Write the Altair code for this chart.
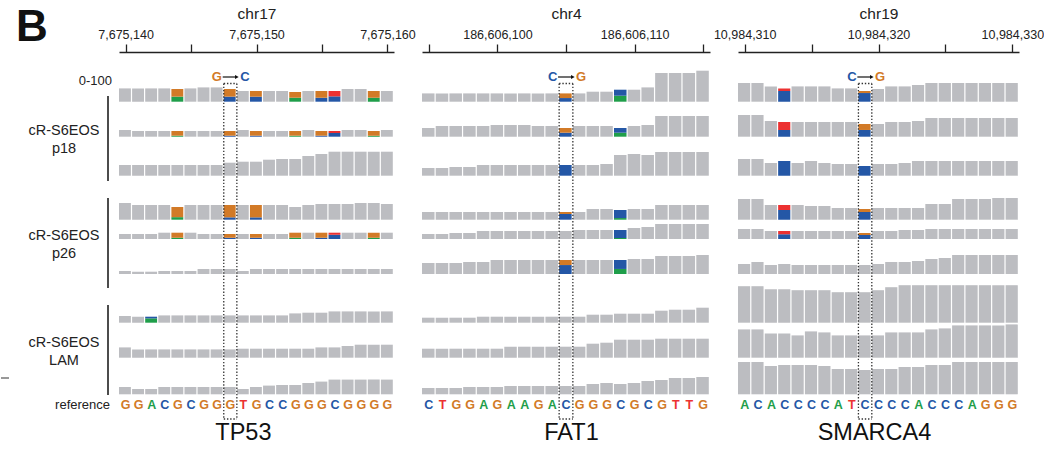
import altair as alt
import pandas as pd

FONT = "Liberation Sans"
GRAY = "#BCBDC1"
BASE_COLORS = {"A": "#1F9E4A", "C": "#2457A6", "G": "#D27A27", "T": "#EC3131"}
STACK_ORDER = ["A", "C", "G", "T"]

# ---------------- panel descriptors ----------------
CHROMS = ["chr17", "chr4", "chr19"]
GENES = ["TP53", "FAT1", "SMARCA4"]
STARTS = [7675140, 186606095, 10984310]
REF_SEQS = ["GGACGCGGGTGCCGGGCGGGG", "CTGGAGAAGACGGGCGCGTTG", "ACACCCCATCCCCACCCAGGG"]
VARIANT_IDX = [8, 10, 9]
SUBSTITUTIONS = [("G", "C"), ("C", "G"), ("C", "G")]
GENE_LABEL_POS = [7675149.0, 186606105.4, 10984319.7]
TICK_STEP = 5
LABEL_STEP = 10

SAMPLE_LINES = [["cR-S6EOS", "p18"], ["cR-S6EOS", "p26"], ["cR-S6EOS", "LAM"]]
SCALE_LABEL = "0-100"
REF_LABEL = "reference"
PANEL_LETTER = "B"

# ---------------- coverage (9 tracks x 21 positions) ----------------
COV_TP53 = [
    [13.3, 13.3, 13.3, 13.3, 12.7, 13.3, 14.3, 14.3, 12.7, 10.7, 10.7, 10.7, 10.7, 9.7, 10.7, 10.7, 10.7, 12.7, 12.7, 10.7, 10.7],
    [6.7, 5.7, 5.7, 5.7, 5.7, 5.7, 5.7, 5.7, 5.7, 6.7, 5.7, 5.7, 5.7, 5.7, 6.7, 5.7, 5.7, 6.7, 6.7, 5.7, 6.7],
    [10.7, 10.7, 10.7, 10.7, 10.7, 10.7, 10.7, 10.7, 13.0, 14.0, 14.0, 16.0, 16.7, 16.7, 19.7, 21.7, 24.0, 24.0, 24.0, 24.0, 24.0],
    [16.7, 14.7, 14.7, 14.7, 12.7, 14.7, 14.7, 14.7, 14.7, 14.7, 14.7, 14.7, 14.7, 12.7, 14.7, 15.7, 15.7, 15.7, 16.7, 16.7, 15.7],
    [5.0, 5.0, 5.0, 6.3, 6.3, 6.3, 5.0, 5.0, 5.0, 5.0, 5.0, 5.0, 5.0, 6.3, 6.3, 6.3, 6.3, 6.3, 6.3, 6.3, 6.3],
    [3.0, 2.3, 2.3, 3.0, 3.0, 3.0, 5.0, 5.0, 5.0, 3.0, 5.0, 5.0, 5.0, 5.0, 5.0, 5.0, 5.0, 5.0, 5.0, 5.0, 5.0],
    [6.7, 6.0, 6.0, 7.3, 7.3, 7.3, 7.3, 7.3, 7.3, 7.3, 7.3, 7.3, 7.3, 9.3, 10.0, 10.0, 11.3, 11.3, 11.3, 11.3, 11.3],
    [10.3, 8.3, 8.3, 8.3, 8.3, 8.3, 8.3, 8.3, 8.3, 9.0, 9.0, 9.0, 9.0, 9.0, 9.0, 10.3, 10.3, 11.7, 13.0, 13.0, 13.0],
    [7.3, 5.3, 5.3, 7.3, 7.3, 7.3, 7.3, 7.3, 7.3, 5.3, 7.3, 8.7, 9.3, 9.3, 11.3, 12.7, 14.7, 14.7, 14.7, 14.7, 14.7],
]
COV_FAT1 = [
    [8.3, 8.3, 8.3, 8.3, 8.3, 8.3, 8.3, 8.3, 8.3, 8.3, 8.3, 8.3, 10.0, 10.0, 12.0, 12.0, 14.3, 28.7, 28.7, 28.7, 31.0],
    [8.7, 10.7, 10.7, 10.7, 10.7, 11.7, 11.7, 11.7, 10.7, 10.7, 8.7, 10.7, 10.7, 10.7, 8.7, 10.7, 11.7, 20.7, 20.7, 20.7, 20.7],
    [7.7, 7.7, 8.7, 8.7, 10.7, 10.7, 10.7, 10.7, 10.7, 10.7, 10.7, 10.7, 10.7, 11.7, 20.7, 21.7, 20.7, 23.7, 23.7, 23.7, 23.7],
    [7.7, 7.7, 7.7, 7.7, 7.7, 7.7, 7.7, 7.7, 7.7, 7.7, 7.7, 7.7, 10.7, 10.7, 9.7, 10.7, 10.7, 14.7, 14.7, 14.7, 14.7],
    [5.0, 5.0, 6.0, 6.0, 8.0, 8.0, 8.0, 8.0, 8.0, 8.0, 8.0, 9.0, 9.0, 9.0, 9.0, 11.0, 12.0, 15.0, 15.0, 15.0, 15.0],
    [11.0, 11.0, 11.0, 12.0, 12.0, 14.0, 14.0, 14.0, 14.0, 14.0, 14.0, 14.0, 14.0, 14.0, 14.0, 15.0, 15.0, 18.0, 18.0, 18.0, 19.0],
    [5.0, 5.0, 5.0, 5.0, 6.0, 6.0, 6.0, 6.0, 6.0, 6.0, 6.0, 6.0, 8.0, 8.0, 9.0, 9.0, 9.0, 12.0, 13.0, 13.0, 15.0],
    [9.0, 9.0, 9.0, 9.0, 9.0, 9.0, 11.0, 11.0, 11.0, 11.0, 11.0, 11.0, 14.0, 15.0, 18.0, 18.0, 18.0, 19.0, 19.0, 19.0, 19.0],
    [6.3, 6.3, 6.3, 7.3, 7.3, 7.3, 8.3, 8.3, 8.3, 8.3, 8.3, 8.3, 10.3, 11.3, 10.3, 11.3, 13.3, 14.3, 16.3, 16.3, 17.3],
]
COV_SMARCA4 = [
    [18.7, 18.7, 15.3, 13.3, 15.3, 15.3, 15.3, 13.3, 13.3, 10.7, 12.7, 15.3, 15.3, 16.7, 18.7, 18.7, 18.7, 18.7, 18.7, 18.7, 18.7],
    [21.7, 21.7, 15.7, 14.7, 14.7, 14.7, 14.7, 14.7, 14.7, 12.7, 12.7, 14.7, 14.7, 15.7, 18.7, 18.7, 18.7, 18.7, 18.7, 18.7, 18.7],
    [16.7, 16.7, 12.7, 14.7, 12.7, 14.7, 12.7, 11.7, 11.7, 9.7, 11.7, 11.7, 12.7, 14.7, 14.7, 14.7, 14.7, 14.7, 14.7, 14.7, 14.7],
    [20.7, 20.7, 14.7, 14.7, 14.7, 13.7, 13.7, 11.7, 11.7, 10.7, 11.7, 11.7, 11.7, 11.7, 15.7, 15.7, 20.7, 20.7, 20.7, 21.7, 21.7],
    [10.0, 10.0, 8.0, 8.0, 8.0, 8.0, 8.0, 8.0, 8.0, 6.0, 8.0, 8.0, 9.0, 9.0, 10.0, 10.0, 10.0, 10.0, 10.0, 10.0, 10.0],
    [10.0, 12.0, 9.0, 10.0, 9.0, 9.0, 9.0, 9.0, 9.0, 9.0, 10.0, 12.0, 12.0, 13.0, 15.0, 16.0, 19.0, 19.0, 19.0, 19.0, 19.0],
    [36.5, 36.5, 33.5, 33.5, 32.5, 32.5, 32.5, 30.5, 30.5, 30.5, 32.5, 35.5, 37.5, 37.5, 37.5, 37.5, 37.5, 37.5, 37.5, 37.5, 37.5],
    [28.3, 28.3, 24.3, 24.3, 22.3, 26.3, 25.3, 22.3, 22.3, 22.3, 22.3, 25.3, 25.3, 25.3, 28.3, 29.3, 32.3, 32.3, 32.3, 32.3, 33.3],
    [32.3, 32.3, 28.3, 29.3, 29.3, 29.3, 28.3, 25.3, 25.3, 24.3, 25.3, 25.3, 27.3, 27.3, 29.3, 29.3, 32.3, 32.3, 32.3, 32.3, 32.3],
]

# ---------------- mismatch base composition: (track, position index) -> fractions ----------------
MIS_TP53 = {
    (0, 4): {"A": 0.40, "G": 0.60}, (0, 8): {"C": 0.40, "G": 0.60}, (0, 10): {"C": 0.47, "G": 0.53},
    (0, 13): {"A": 0.41, "G": 0.59}, (0, 15): {"C": 0.37, "G": 0.63}, (0, 16): {"C": 0.50, "T": 0.50},
    (0, 19): {"A": 0.37, "G": 0.63},
    (1, 4): {"A": 0.18, "G": 0.82}, (1, 8): {"C": 0.18, "G": 0.82}, (1, 10): {"C": 0.18, "G": 0.82},
    (1, 13): {"A": 0.18, "G": 0.82}, (1, 15): {"C": 0.18, "G": 0.82}, (1, 16): {"C": 0.65, "T": 0.35},
    (1, 19): {"A": 0.18, "G": 0.82},
    (3, 4): {"A": 0.20, "G": 0.80}, (3, 8): {"C": 0.16, "G": 0.84}, (3, 10): {"C": 0.16, "G": 0.84},
    (4, 4): {"A": 0.20, "G": 0.80}, (4, 8): {"C": 0.25, "G": 0.75}, (4, 10): {"C": 0.25, "G": 0.75},
    (4, 13): {"A": 0.20, "G": 0.80}, (4, 15): {"C": 0.20, "G": 0.80}, (4, 16): {"C": 0.67, "T": 0.33},
    (4, 19): {"A": 0.20, "G": 0.80},
    (6, 2): {"A": 0.72, "C": 0.28},
}
MIS_FAT1 = {
    (0, 10): {"C": 0.44, "G": 0.56}, (0, 14): {"A": 0.50, "C": 0.50},
    (1, 10): {"C": 0.46, "G": 0.54}, (1, 14): {"A": 0.46, "C": 0.54},
    (2, 10): {"C": 1.00},
    (3, 10): {"C": 0.74, "G": 0.26}, (3, 14): {"A": 0.17, "C": 0.83},
    (4, 14): {"A": 0.11, "C": 0.89},
    (5, 10): {"C": 0.64, "G": 0.36}, (5, 14): {"A": 0.36, "C": 0.64},
}
MIS_SMARCA4 = {
    (0, 3): {"C": 0.80, "T": 0.20}, (0, 9): {"C": 0.81, "G": 0.19},
    (1, 3): {"C": 0.46, "T": 0.54}, (1, 9): {"C": 0.53, "G": 0.47},
    (2, 3): {"C": 1.00}, (2, 9): {"C": 1.00},
    (3, 3): {"C": 0.66, "T": 0.34}, (3, 9): {"C": 0.72, "G": 0.28},
    (4, 3): {"C": 0.60, "T": 0.40}, (4, 9): {"C": 0.67, "G": 0.33},
}

COVS = [COV_TP53, COV_FAT1, COV_SMARCA4]
MISS = [MIS_TP53, MIS_FAT1, MIS_SMARCA4]

# ---------------- layout (pixels) ----------------
PLOT_TOP = 53.0
PLOT_H = 367
TRACK_BOTTOM = [102.7, 137.7, 176.7, 220.7, 240.0, 275.0, 323.7, 358.7, 395.3]
BOX_TOP = 84.5
ARROW_Y = 78.0
REF_Y = 406.0
GENE_Y = 434.0
PANEL_W = [275, 288, 281]
LABEL_W = 90
SPACING = 28
BRACKETS = [(97, 182), (199, 289), (306, 396)]


def rel(v):
    return v - PLOT_TOP


def yscale():
    return alt.Scale(domain=[0, PLOT_H], reverse=True, nice=False, zero=False)


def panel(k):
    start = STARTS[k]
    n = len(REF_SEQS[k])
    xs = alt.Scale(domain=[start - 0.5, start + n - 0.5], nice=False, zero=False)
    rows = []
    for t, cov in enumerate(COVS[k]):
        base = rel(TRACK_BOTTOM[t])
        for i, total in enumerate(cov):
            pos = start + i
            comp = MISS[k].get((t, i))
            if comp is None:
                rows.append(dict(x0=pos - 0.5, x1=pos + 0.5, y=base, y2=base - total, fill=GRAY))
            else:
                cum = 0.0
                for b in STACK_ORDER:
                    if b in comp:
                        h = total * comp[b]
                        rows.append(dict(x0=pos - 0.5, x1=pos + 0.5, y=base - cum, y2=base - cum - h,
                                         fill=BASE_COLORS[b]))
                        cum += h
    bars_df = pd.DataFrame(rows)

    axis = alt.Axis(
        orient="top", values=list(range(start, start + n, TICK_STEP)),
        labelExpr=f"datum.value % {LABEL_STEP} === 0 ? format(datum.value, ',') : ''",
        tickSize=8, tickWidth=1.3, tickColor="#222", domainColor="#222", domainWidth=1.3,
        labelFont=FONT, labelFontSize=12.5, labelColor="#222", labelPadding=3,
        labelOverlap=False, labelFlush=False, grid=False,
        titleFont=FONT, titleFontSize=15.5, titleFontWeight="normal", titleColor="#222", titlePadding=7,
    )
    bars = alt.Chart(bars_df).mark_rect(x2Offset=-1.2).encode(
        x=alt.X("x0:Q", scale=xs, axis=axis, title=CHROMS[k]),
        x2="x1:Q",
        y=alt.Y("y:Q", scale=yscale(), axis=None),
        y2="y2:Q",
        color=alt.Color("fill:N", scale=None),
    )

    vpos = start + VARIANT_IDX[k]
    a, b = vpos - 0.5, vpos + 0.5
    top, bot = rel(BOX_TOP), PLOT_H
    box_df = pd.DataFrame([
        dict(x=a, x2=a, y=top, y2=bot), dict(x=b, x2=b, y=top, y2=bot),
        dict(x=a, x2=b, y=top, y2=top), dict(x=a, x2=b, y=bot, y2=bot),
    ])
    box = alt.Chart(box_df).mark_rule(color="#333", strokeWidth=1.3, strokeDash=[1.4, 1.8]).encode(
        x=alt.X("x:Q", scale=xs, axis=None), x2="x2:Q",
        y=alt.Y("y:Q", scale=yscale(), axis=None), y2="y2:Q",
    )

    ref_df = pd.DataFrame([
        dict(x=start + i, y=rel(REF_Y), letter=c, col=BASE_COLORS[c]) for i, c in enumerate(REF_SEQS[k])
    ])
    ref = alt.Chart(ref_df).mark_text(font=FONT, fontSize=12.5, fontWeight="bold", baseline="middle").encode(
        x=alt.X("x:Q", scale=xs, axis=None),
        y=alt.Y("y:Q", scale=yscale(), axis=None),
        text="letter:N",
        color=alt.Color("col:N", scale=None),
    )

    frm, to = SUBSTITUTIONS[k]
    sub_df = pd.DataFrame([dict(x=vpos, y=rel(ARROW_Y), frm=frm, to=to,
                                cf=BASE_COLORS[frm], ct=BASE_COLORS[to],
                                xa=vpos - 0.58, xb=vpos + 0.45, xt=vpos + 0.5)])
    enc_y = alt.Y("y:Q", scale=yscale(), axis=None)
    left_letter = alt.Chart(sub_df).mark_text(font=FONT, fontSize=13, fontWeight="bold", align="right",
                                              baseline="middle", dx=-8.5).encode(
        x=alt.X("x:Q", scale=xs, axis=None), y=enc_y, text="frm:N", color=alt.Color("cf:N", scale=None))
    right_letter = alt.Chart(sub_df).mark_text(font=FONT, fontSize=13, fontWeight="bold", align="left",
                                               baseline="middle", dx=10).encode(
        x=alt.X("x:Q", scale=xs, axis=None), y=enc_y, text="to:N", color=alt.Color("ct:N", scale=None))
    arrow_line = alt.Chart(sub_df).mark_rule(color="#111", strokeWidth=1.2).encode(
        x=alt.X("xa:Q", scale=xs, axis=None), x2="xb:Q", y=enc_y)
    arrow_head = alt.Chart(sub_df).mark_point(shape="triangle-right", filled=True, size=18, color="#111",
                                              opacity=1).encode(
        x=alt.X("xt:Q", scale=xs, axis=None), y=enc_y)

    gene_df = pd.DataFrame([dict(x=GENE_LABEL_POS[k], y=rel(GENE_Y), name=GENES[k])])
    gene = alt.Chart(gene_df).mark_text(font=FONT, fontSize=23.5, color="#111", baseline="middle").encode(
        x=alt.X("x:Q", scale=xs, axis=None), y=alt.Y("y:Q", scale=yscale(), axis=None), text="name:N")

    return alt.layer(bars, box, ref, arrow_line, arrow_head, left_letter, right_letter, gene).resolve_axis(
        x="independent", y="independent").properties(width=PANEL_W[k], height=PLOT_H)


def labels_chart():
    xs = alt.Scale(domain=[0, LABEL_W], nice=False, zero=False)
    grp_rows = []
    for (t0, t1), lines in zip(BRACKETS, SAMPLE_LINES):
        c = (t0 + t1) / 2 + 1.5
        for j, line in enumerate(lines):
            grp_rows.append(dict(x=63, y=rel(c - 9 + 18 * j), text=line))
    grp = alt.Chart(pd.DataFrame(grp_rows)).mark_text(font=FONT, fontSize=14.5, color="#222",
                                                      baseline="middle").encode(
        x=alt.X("x:Q", scale=xs, axis=None), y=alt.Y("y:Q", scale=yscale(), axis=None), text="text:N")
    br_df = pd.DataFrame([dict(x=107, y=rel(t0), y2=rel(t1)) for t0, t1 in BRACKETS])
    br = alt.Chart(br_df).mark_rule(color="#111", strokeWidth=1.5).encode(
        x=alt.X("x:Q", scale=xs, axis=None), y=alt.Y("y:Q", scale=yscale(), axis=None), y2="y2:Q")
    side_df = pd.DataFrame([
        dict(x=111, y=rel(82), text=SCALE_LABEL),
        dict(x=109, y=rel(REF_Y), text=REF_LABEL),
    ])
    side = alt.Chart(side_df).mark_text(font=FONT, fontSize=13, color="#222", align="right",
                                        baseline="middle").encode(
        x=alt.X("x:Q", scale=xs, axis=None), y=alt.Y("y:Q", scale=yscale(), axis=None), text="text:N")
    letter_df = pd.DataFrame([dict(x=31, y=rel(42), text=PANEL_LETTER)])
    letter = alt.Chart(letter_df).mark_text(font=FONT, fontSize=44, fontWeight="bold", color="#111",
                                            baseline="alphabetic").encode(
        x=alt.X("x:Q", scale=xs, axis=None), y=alt.Y("y:Q", scale=yscale(), axis=None), text="text:N")
    dash_df = pd.DataFrame([dict(x=0, x2=8, y=rel(379))])
    dash = alt.Chart(dash_df).mark_rule(color="#333", strokeWidth=1).encode(
        x=alt.X("x:Q", scale=xs, axis=None), x2="x2:Q", y=alt.Y("y:Q", scale=yscale(), axis=None))
    return alt.layer(grp, br, side, letter, dash).properties(width=LABEL_W, height=PLOT_H)


chart = alt.hconcat(labels_chart(), panel(0), panel(1), panel(2), spacing=SPACING, bounds="flush").properties(
    padding={"left": 0, "top": 6, "right": 0, "bottom": 0}
).configure_view(stroke=None)

chart.save("out.html", embed_options={"renderer": "svg", "actions": False})
